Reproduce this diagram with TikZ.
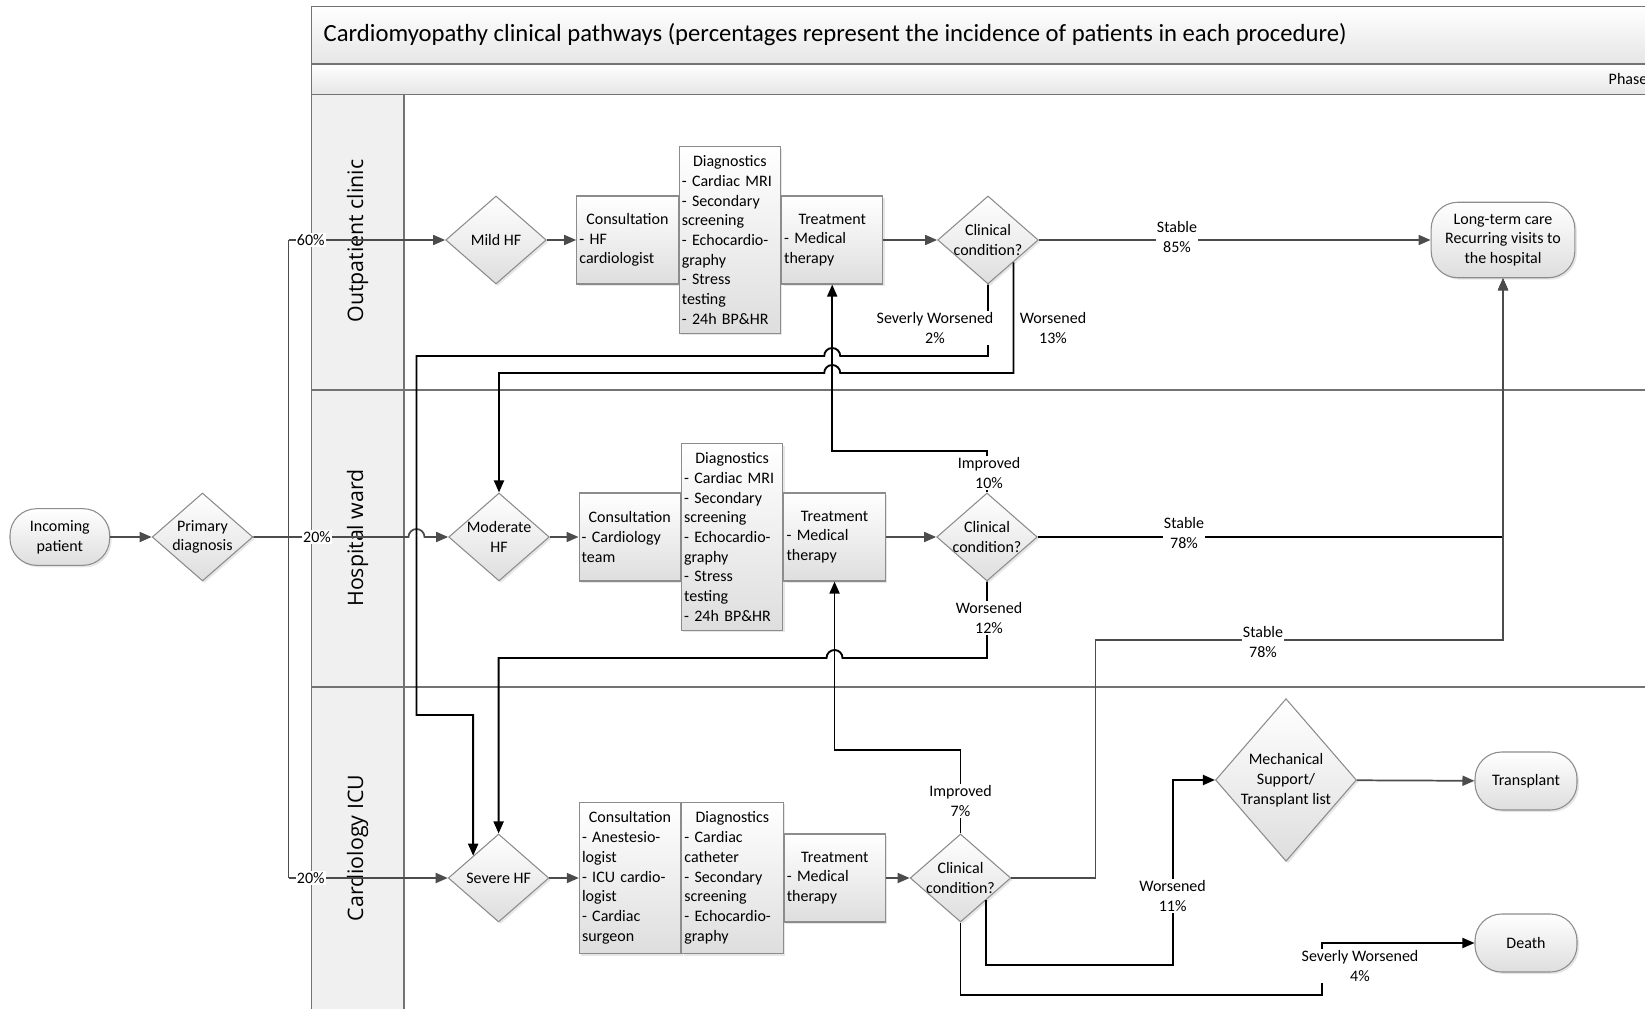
\documentclass[tikz,border=0pt]{standalone}
\usepackage{fontspec}
\setmainfont{Carlito}
\newfontfamily\lanefont{Open Sans}
\usetikzlibrary{arrows.meta, positioning, shapes.geometric, shadows, calc}
\newcommand{\boxtitle}[1]{\hfill#1\hfill\null}

\begin{document}
\begin{tikzpicture}[
x=0.75pt, y=-0.75pt,
font=\fontsize{12}{14.8}\selectfont,
softfill/.style={top color=white, bottom color=black!13, draw=black!45, line width=0.8pt, drop shadow={opacity=0.2, shadow xshift=1.5pt, shadow yshift=-1.5pt}},
box/.style={softfill, rectangle, minimum width=76pt, minimum height=66pt, text width=72pt, inner sep=2pt, align=left},
tallbox/.style={box, minimum height=140pt},
dec/.style={softfill, diamond, minimum width=75.5pt, minimum height=66pt, inner sep=-3pt, shape aspect=1.144, align=center},
term/.style={softfill, rectangle, rounded corners=20pt, minimum width=76.5pt, minimum height=43.5pt, inner sep=2pt, align=center},
frame/.style={draw=black!55, line width=0.9pt},
flow/.style={draw=black!70, line width=1.3pt, -{Triangle[length=9pt, width=7.5pt]}},
back/.style={draw=black, line width=1.4pt, -{Triangle[length=9pt, width=7.5pt]}},
lbl/.style={fill=white, inner sep=1pt, align=center},
lane/.style={rotate=90, font=\lanefont\fontsize{16}{18}\selectfont}
]
\useasboundingbox (0,0) rectangle (1645,1009);
\clip (0,0) rectangle (1645,1009);

% pool and lanes
\draw[frame, top color=white, bottom color=black!10] (311.5,6.3) rectangle (1660,64);
\draw[frame, top color=white, bottom color=black!10] (311.5,64) rectangle (1660,94.4);
\draw[frame, fill=black!6] (311.5,94.4) rectangle (404,1020);
\draw[frame] (311.5,94.4) rectangle (1660,1020);
\draw[frame] (311.5,390) -- (1660,390);
\draw[frame] (311.5,687) -- (1660,687);

\node[anchor=west, font=\fontsize{18.5}{22}\selectfont] (title) at (319,34.6) {Cardiomyopathy clinical pathways (percentages represent the incidence of patients in each procedure)};
\node[anchor=west] (phase) at (1604,79) {Phase};
\node[lane] (outlane) at (357.5,241) {Outpatient clinic};
\node[lane] (wardlane) at (357.5,538) {Hospital ward};
\node[lane] (iculane) at (357.5,848) {Cardiology ICU};

% entry
\node[term, minimum width=74.7pt, minimum height=42.5pt] (inc) at (59.8,537) {Incoming\\patient};
\node[dec] (prim) at (202.5,537) {Primary\\diagnosis};
\coordinate (split60) at (288.5,240);
\coordinate (split20) at (288.5,878);

% outpatient clinic
\node[dec] (mild) at (496,240) {Mild HF};
\node[box, right=22pt of mild] (cons1) {\boxtitle{Consultation}\\- HF\\cardiologist};
\node[tallbox, right=0pt of cons1] (diag1) {\boxtitle{Diagnostics}\\- Cardiac MRI\\- Secondary\\screening\\- Echocardio-\\graphy\\- Stress\\testing\\- 24h BP\&HR};
\node[box, right=0pt of diag1] (treat1) {\boxtitle{Treatment}\\- Medical\\therapy};
\node[dec] (cc1) at (988,240) {Clinical\\condition?};
\node[term, minimum width=107.8pt, minimum height=56.6pt] (ltc) at (1503,240) {Long-term care\\Recurring visits to\\the hospital};

% hospital ward
\node[dec] (mod) at (499,537) {Moderate\\HF};
\node[box, right=21.5pt of mod] (cons2) {\boxtitle{Consultation}\\- Cardiology\\team};
\node[tallbox, right=0pt of cons2] (diag2) {\boxtitle{Diagnostics}\\- Cardiac MRI\\- Secondary\\screening\\- Echocardio-\\graphy\\- Stress\\testing\\- 24h BP\&HR};
\node[box, right=0pt of diag2] (treat2) {\boxtitle{Treatment}\\- Medical\\therapy};
\node[dec] (cc2) at (987,537) {Clinical\\condition?};

% cardiology ICU
\node[dec] (sev) at (498.6,878) {Severe HF};
\node[box, minimum height=113.5pt, right=22pt of sev] (cons3) {\boxtitle{Consultation}\\- Anestesio-\\logist\\- ICU cardio-\\logist\\- Cardiac\\surgeon};
\node[box, minimum height=113.5pt, right=0pt of cons3] (diag3) {\boxtitle{Diagnostics}\\- Cardiac\\catheter\\- Secondary\\screening\\- Echocardio-\\graphy};
\node[box, right=0pt of diag3] (treat3) {\boxtitle{Treatment}\\- Medical\\therapy};
\node[dec] (cc3) at (960.5,878) {Clinical\\condition?};
\node[dec, minimum width=105.75pt, minimum height=122pt, shape aspect=0.867] (mech) at (1286,780) {Mechanical\\Support/\\Transplant list};
\node[term] (transp) at (1526,781) {Transplant};
\node[term] (death) at (1526,943) {Death};

% main flow
\draw[flow] (inc) -- (prim);
\draw[flow] (prim.east) -- (408.5,537) arc[start angle=180, end angle=0, radius=6pt] -- (mod.west);
\draw[flow, -] (split60) -- (split20);
\draw[flow] (split60) -- (mild.west);
\draw[flow] (split20) -- (sev.west);
\draw[flow] (mild) -- (cons1);
\draw[flow] (treat1) -- (cc1);
\draw[flow] (cc1) -- (ltc);
\draw[flow] (mod) -- (cons2);
\draw[flow] (treat2) -- (cc2);
\draw[flow] (sev) -- (cons3);
\draw[flow] (treat3) -- (cc3);
\draw[flow] (mech) -- (transp);

% transfers between lanes
\draw[back] (cc1.south) -- (cc1.south |- 0,356) -- ($(treat1.south |- 0,356)+(8,0)$) arc[start angle=0, end angle=180, radius=6pt] -- (416.5,356) -- (416.5,715) -- (sev.north west |- 0,715) -- (sev.north west);
\draw[back] (cc1.south east) -- (cc1.south east |- 0,373) -- ($(treat1.south |- 0,373)+(8,0)$) arc[start angle=0, end angle=180, radius=6pt] -- (mod.north |- 0,373) -- (mod.north);
\draw[back] (cc2.north) |- (treat1.south |- 0,451) -- (treat1.south);
\draw[back] (cc2.east) -| (ltc.south);
\draw[back] (cc2.south) -- (cc2.south |- 0,658) -- ($(treat2.south |- 0,658)+(8,0)$) arc[start angle=0, end angle=180, radius=6pt] -- (sev.north |- 0,658) -- (sev.north);
\draw[back] (cc3.north) |- (treat2.south |- 0,750) -- (treat2.south);
\draw[flow] (cc3.east) -| (1095.5,640) -| (ltc.south);
\draw[back] (cc3.south east) |- (1172.6,965) |- (mech.west);
\draw[back] (cc3.south) |- (1321.6,995) |- (death.west);

% percentages
\node[lbl] (p60) at (310.8,240) {60\%};
\node[lbl] (p20a) at (317,537) {20\%};
\node[lbl] (p20b) at (310.8,878) {20\%};
\node[lbl] (s85) at (1177,237) {Stable\\85\%};
\node[lbl] (sw2) at (935,328) {Severly Worsened\\2\%};
\node[lbl] (w13) at (1053,328) {Worsened\\13\%};
\node[lbl] (i10) at (989,473) {Improved\\10\%};
\node[lbl] (s78a) at (1184,533) {Stable\\78\%};
\node[lbl] (w12) at (989,618) {Worsened\\12\%};
\node[lbl] (s78b) at (1263,642) {Stable\\78\%};
\node[lbl] (i7) at (960.5,801) {Improved\\7\%};
\node[lbl] (w11) at (1172.6,896) {Worsened\\11\%};
\node[lbl] (sw4) at (1360,966) {Severly Worsened\\4\%};

\end{tikzpicture}
\end{document}
